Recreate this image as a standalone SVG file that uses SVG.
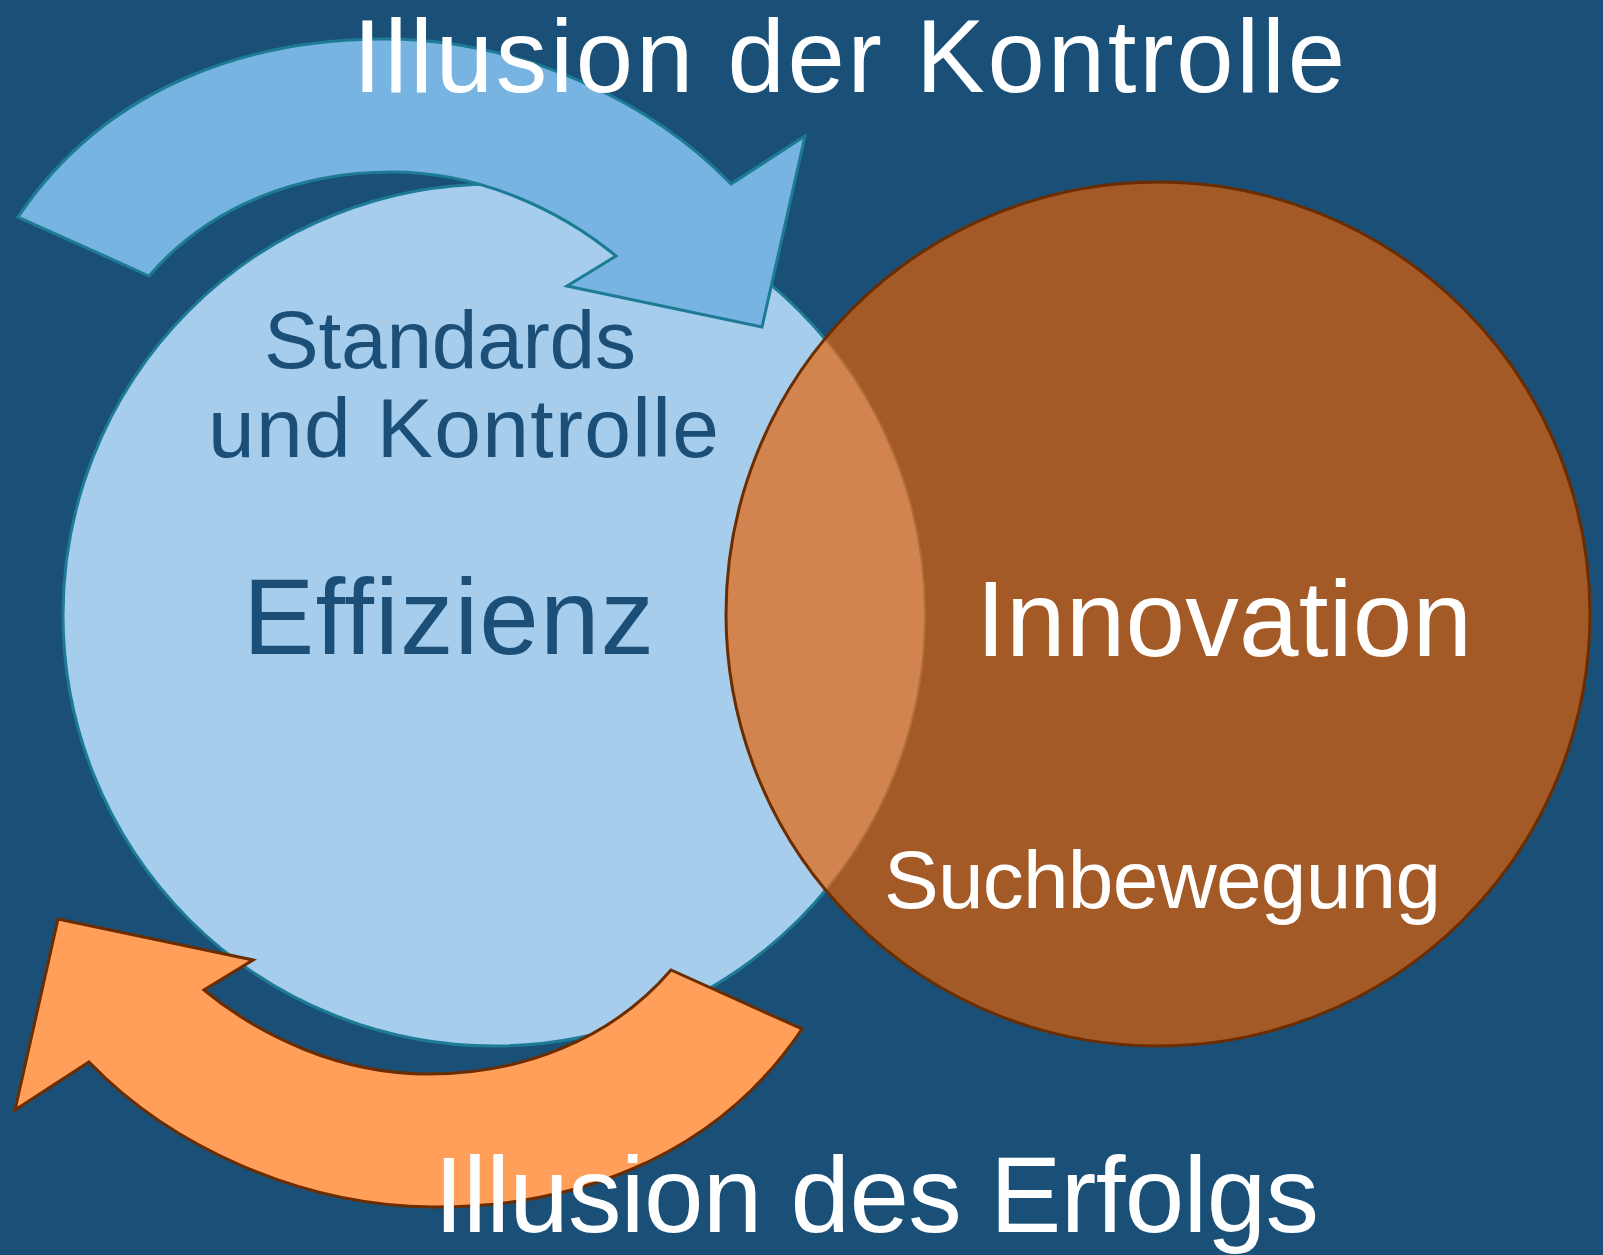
<svg xmlns="http://www.w3.org/2000/svg" width="1603" height="1255" viewBox="0 0 1603 1255">
<style>
.t{font-family:"Liberation Sans",Arial,sans-serif}
.w{fill:#ffffff}
.d{fill:#1B4F78}
</style>
<defs>
<clipPath id="blueClip"><circle cx="494" cy="615" r="431"/></clipPath>
<clipPath id="orangeClip"><circle cx="1158" cy="614" r="432"/></clipPath>
<path id="arrowShape" d="M 18 217 C 110 80, 260 38, 388 39 C 520 40, 650 100, 731 184 L 805 136 L 762 327 L 567 286 L 616 256 C 560 210, 480 172, 392 172 C 300 172, 210 205, 149 276 Z"/>
</defs>
<rect width="1603" height="1255" fill="#1A5078"/>
<g id="effizienz">
<circle cx="494" cy="615" r="431" fill="#A6CDEC" stroke="#1D7B96" stroke-width="3"/>
</g>
<g id="innovation">
<circle cx="1158" cy="614" r="432" fill="#A35A26"/>
<circle cx="1158" cy="614" r="432" fill="#D2844F" clip-path="url(#blueClip)"/>
<circle cx="494" cy="615" r="431" fill="none" stroke="#B06F3A" stroke-width="2" clip-path="url(#orangeClip)"/>
<circle cx="1158" cy="614" r="432" fill="none" stroke="#6B2C00" stroke-width="3"/>
</g>
<g id="connectors">
<use href="#arrowShape" fill="#78B4E2" stroke="#1D7B96" stroke-width="3"/>
<use href="#arrowShape" fill="#FF9F59" stroke="#6B2C00" stroke-width="3" transform="translate(3 2) rotate(180 408.5 622)"/>
</g>
<g id="labels">
<text class="t w" x="353" y="92" font-size="103" textLength="992" lengthAdjust="spacing">Illusion der Kontrolle</text>
<text class="t d" x="264" y="368" font-size="82" textLength="372" lengthAdjust="spacing">Standards</text>
<text class="t d" x="208" y="457" font-size="84" textLength="511" lengthAdjust="spacing">und Kontrolle</text>
<text class="t d" x="243" y="654" font-size="107" textLength="411" lengthAdjust="spacing">Effizienz</text>
<text class="t w" x="976" y="656" font-size="107" textLength="496" lengthAdjust="spacing">Innovation</text>
<text class="t w" x="884" y="908" font-size="82" textLength="557" lengthAdjust="spacing">Suchbewegung</text>
<text class="t w" x="434" y="1232" font-size="107" textLength="885" lengthAdjust="spacing">Illusion des Erfolgs</text>
</g>
</svg>
